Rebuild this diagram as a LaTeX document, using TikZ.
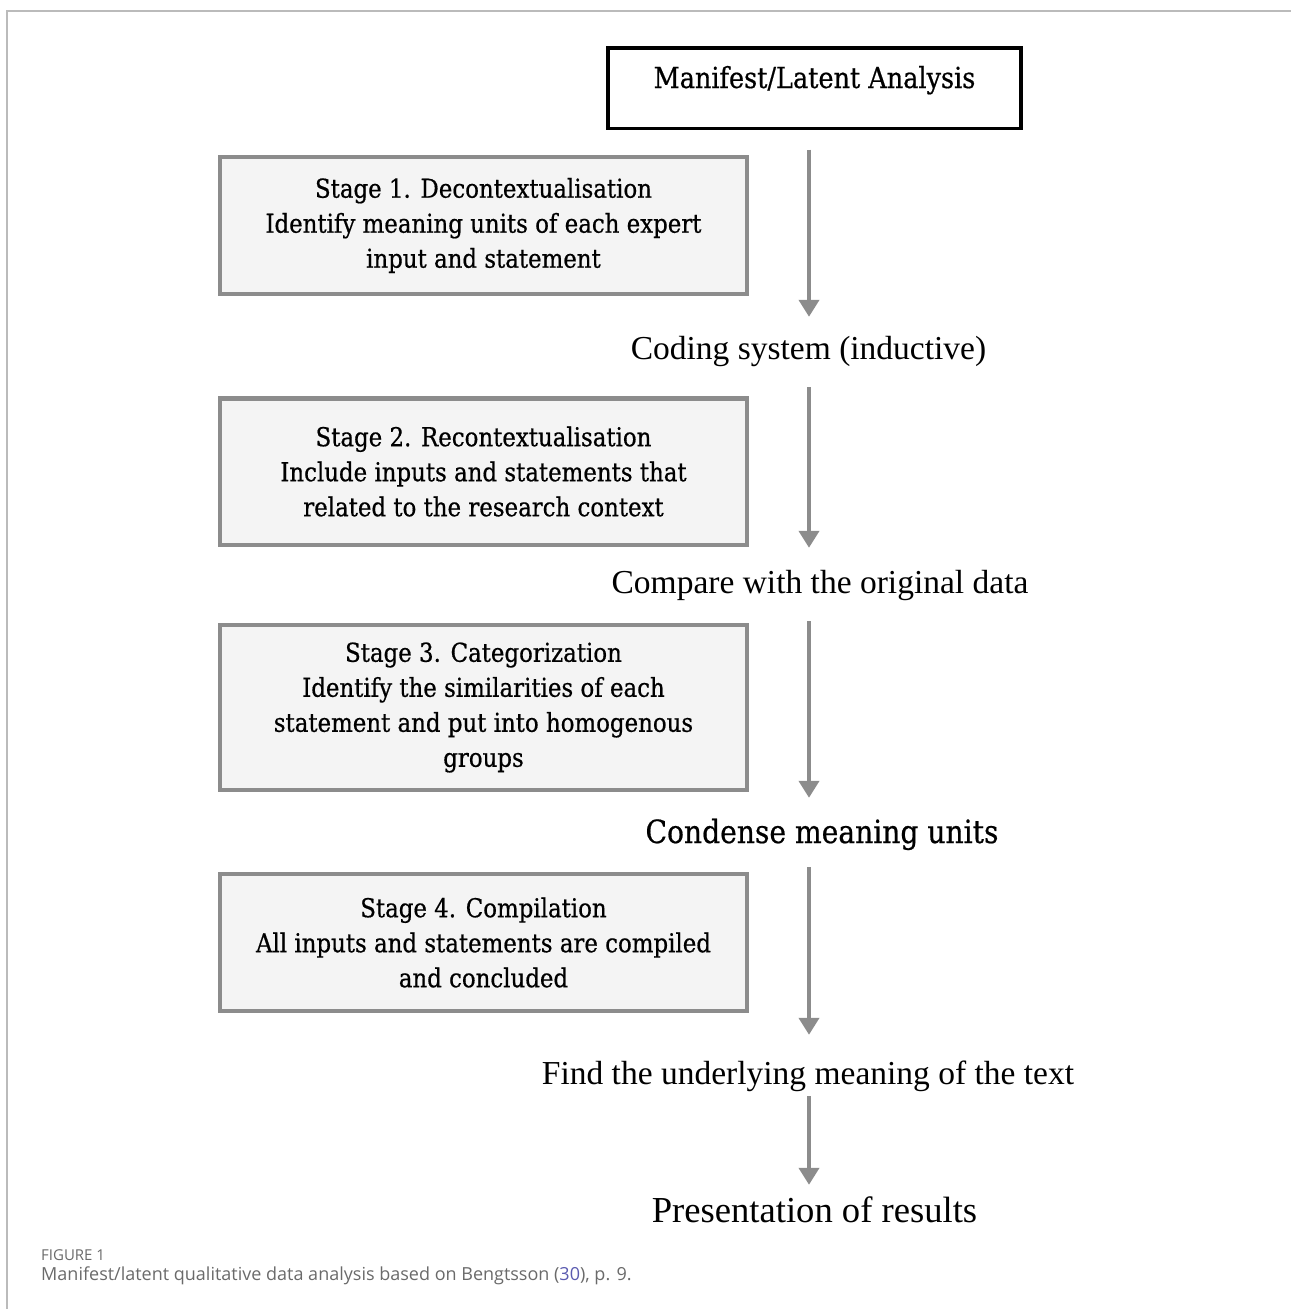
\documentclass[tikz,border=0pt]{standalone}
\usepackage{fontspec}
\setmainfont{Liberation Serif}
\newfontfamily\boxfont[FakeStretch=0.88,FakeBold=0.6]{DejaVu Serif}
\newfontfamily\capfont{Open Sans}
\usetikzlibrary{positioning,arrows.meta}
\definecolor{boxgray}{HTML}{8C8C8C}
\definecolor{boxfill}{HTML}{F4F4F4}
\definecolor{framegray}{HTML}{BBBBBB}
\definecolor{capgray}{HTML}{6A6A6A}
\definecolor{citeblue}{HTML}{5B5BB0}
\begin{document}
\begin{tikzpicture}[x=1pt, y=-1pt,
    stage/.style={draw=boxgray, line width=4.5pt, fill=boxfill,
        minimum width=527pt, inner sep=0pt, align=center,
        font=\boxfont\fontsize{26}{35}\selectfont},
    flow/.style={anchor=base, inner sep=0pt, text height=24pt, text depth=8pt,
        font=\fontsize{33.5}{40}\selectfont},
    flowarrow/.style={draw=boxgray, line width=4pt,
        -{Triangle[width=20pt,length=17pt]}}
]
\useasboundingbox (0,0) rectangle (1291,1309);
\draw[framegray, line width=2pt] (7,1309) -- (7,10.5) -- (1291,10.5);

\node[draw, line width=3.5pt, minimum width=413pt, minimum height=80.5pt,
    inner sep=0pt, text height=20pt, text depth=20pt,
    font=\boxfont\fontsize{29}{34}\selectfont] (top) at (814.5,88) {Manifest/Latent Analysis};

% stages on the left
\foreach\i/\y/\h/\txt in {
    1/225.5/137/{Stage 1. Decontextualisation\\Identify meaning units of each expert\\input and statement},
    2/471.5/146.5/{Stage 2. Recontextualisation\\Include inputs and statements that\\related to the research context},
    3/707.5/165/{Stage 3. Categorization\\Identify the similarities of each\\statement and put into homogenous\\groups},
    4/942.5/137/{Stage 4. Compilation\\All inputs and statements are compiled\\and concluded}}{
    \node[stage, minimum height=\h pt] (S\i) at (483.5,\y) {\txt};
}

% steps on the right
\node[flow] (code) at (808.5,359) {Coding system (inductive)};
\node[flow] (comp) at (820,593) {Compare with the original data};
\node[flow, font=\boxfont\fontsize{32}{36}\selectfont] (cond) at (822,843) {Condense meaning units};
\node[flow] (find) at (808,1084) {Find the underlying meaning of the text};
\node[flow, font=\fontsize{36.6}{42}\selectfont] (pres) at (814.5,1222) {Presentation of results};

\coordinate (spine) at (809,0);
\foreach\a/\b/\s/\e in {top/code/19.5/18, code/comp/20/21, comp/cond/20/21,
    cond/find/16/25, find/pres/4/13}{
    \draw[flowarrow, shorten <=\s pt, shorten >=\e pt] (\a.south -| spine) -- (\b.north -| spine);
}

\node[anchor=base west, inner sep=0pt, text=capgray,
    font=\capfont\fontsize{15}{17}\selectfont] (figno) at (41,1260) {FIGURE 1};
\node[anchor=base west, inner sep=0pt, text=capgray,
    font=\capfont\fontsize{18}{21}\selectfont] (caption) at (41,1280)
    {Manifest/latent qualitative data analysis based on Bengtsson (\textcolor{citeblue}{30}), p. 9.};
\end{tikzpicture}
\end{document}
